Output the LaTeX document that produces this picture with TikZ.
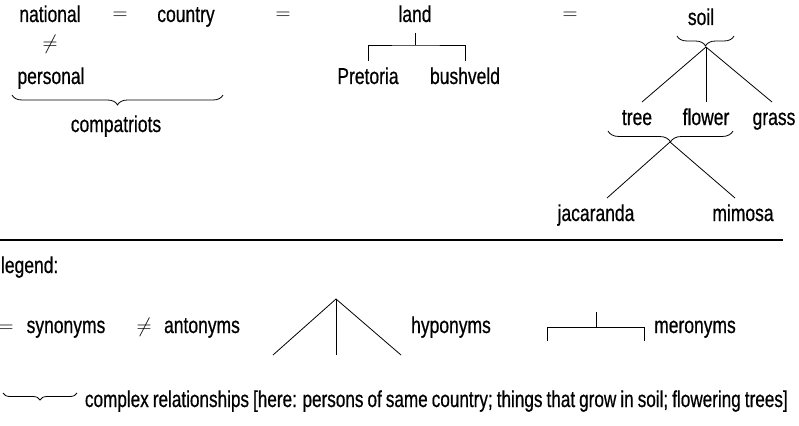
\documentclass[tikz,border=0pt]{standalone}
\usepackage{fontspec}
\newfontfamily\wordfont[FakeStretch=0.76, FakeBold=0.6]{Liberation Sans}
\newfontfamily\keyfont[FakeStretch=0.745, FakeBold=0.6, WordSpace=0.85]{Liberation Sans}
\usetikzlibrary{decorations.pathreplacing}

\begin{document}
\begin{tikzpicture}[x=1pt, y=-1pt, line width=0.8pt,
  word/.style={font=\wordfont\fontsize{23}{28}\selectfont, inner sep=0pt,
    outer sep=6pt, text height=17pt, text depth=5pt, anchor=base},
  rel/.style={font=\fontsize{20.74}{25}\selectfont, inner sep=0pt, anchor=base},
  curly/.style={decorate, decoration={brace, mirror, amplitude=#1}},
  curly/.default=10pt]

  \useasboundingbox (0,0) rectangle (799,425);

  % first row of the word field
  \node[word] (national) at (50,22) {national};
  \node[rel]  (eqa) at (120,20) {$=$};
  \node[word] (country) at (186,22) {country};
  \node[rel]  (eqb) at (283,20) {$=$};
  \node[word] (land) at (415,22) {land};
  \node[rel]  (eqc) at (570,20) {$=$};
  \node[word] (soil) at (701,25) {soil};

  % antonym below national
  \node[rel]  (neq) at (50,50) {$\neq$};
  \node[word] (personal) at (51,84) {personal};

  % brace for the persons
  \draw[curly] (12,95) -- (223,95);
  \node[word] (compatriots) at (116,132) {compatriots};

  % parts of the land
  \node[word] (pretoria) at (368,84) {Pretoria};
  \node[word] (bushveld) at (465,84) {bushveld};
  \coordinate (landbar) at (415,45);
  \draw (land.south) -- (landbar);
  \draw (pretoria.north) |- (landbar) -| (bushveld.north);

  % things that grow in soil
  \node[word] (tree) at (637,125) {tree};
  \node[word] (flower) at (706,125) {flower};
  \node[word] (grass) at (774,125) {grass};
  \draw[curly] (677,36) -- (734,36);
  \coordinate (soilfork) at (706,47);
  \draw (soilfork) -- ([xshift=5pt]tree.north);
  \draw (soilfork) -- (flower.north);
  \draw (soilfork) -- ([xshift=-2pt]grass.north);

  % flowering trees
  \node[word] (jacaranda) at (596,221) {jacaranda};
  \node[word] (mimosa) at (743,221) {mimosa};
  \draw[curly=11pt] (608,131) -- (733,131);
  \coordinate (treefork) at (670,142);
  \draw (treefork) -- ([xshift=11pt]jacaranda.north);
  \draw (treefork) -- ([xshift=-8pt]mimosa.north);

  % separator
  \draw[line width=2pt] (0,240) -- (783,240);

  % legend
  \node[word, anchor=base west, outer sep=0pt] (legend) at (1,273) {legend:};
  \node[rel]  (eqkey) at (6,332) {$=$};
  \node[word] (synonyms) at (66,333) {synonyms};
  \node[rel]  (neqkey) at (144,332) {$\neq$};
  \node[word] (antonyms) at (202,333) {antonyms};

  \draw (273,355) -- (336,299) -- (401,355);
  \draw (336,299) -- (336,355);
  \node[word] (hyponyms) at (451,333) {hyponyms};

  \draw (547,341) |- (644,327) -- (644,341);
  \draw (596,312) -- (596,327);
  \node[word] (meronyms) at (695,333) {meronyms};

  \draw[curly=7pt] (3,393) -- (77,393);
  \node[word, font=\keyfont\fontsize{23}{28}\selectfont, anchor=base west,
    outer sep=0pt] (complex) at (85,407)
    {complex relationships [here: persons of same country; things that grow in soil; flowering trees]};

\end{tikzpicture}
\end{document}
